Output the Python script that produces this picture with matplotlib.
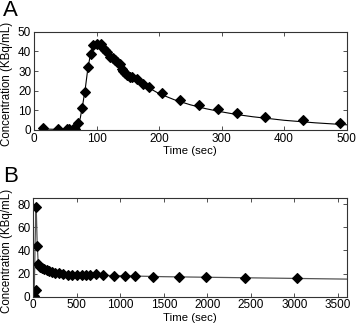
import matplotlib.pyplot as plt

plt.rcParams["font.family"] = ["Liberation Sans", "DejaVu Sans"]
plt.rcParams["font.size"] = 8

# panel A: measured points
time_a = [14, 39, 52, 56, 62, 66, 71, 76, 81, 86, 91, 95, 100, 107, 111, 114, 117,
          122, 126, 130, 133, 138, 140, 143, 146, 149, 153, 156, 164, 174, 184,
          204, 234, 264, 295, 325, 369, 430, 489]
conc_a = [0.8, 0.3, 0.3, 0.3, 0.3, 0.3, 3.7, 11.4, 19.5, 31.9, 38.5, 43.2, 43.6,
          43.7, 41.9, 40.7, 39.5, 37.0, 36.4, 35.6, 34.4, 33.6, 30.8, 30.0, 28.8,
          28.0, 27.1, 26.8, 25.9, 23.2, 22.0, 18.6, 15.3, 12.5, 10.7, 8.5, 6.8,
          5.1, 3.4]
# panel A: fitted curve
fit_time_a = [14, 40, 60, 66, 70, 74, 78, 82, 86, 90, 95, 100, 105, 110, 120, 130,
              140, 150, 160, 175, 200, 225, 250, 275, 300, 325, 350, 400, 450, 500]
fit_conc_a = [0.5, 0.2, 0.2, 0.4, 2.0, 6.0, 13.0, 21.0, 31.0, 38.0, 42.8, 43.8,
              43.6, 42.2, 38.5, 35.0, 31.5, 28.3, 26.0, 23.0, 18.5, 15.3, 12.8,
              10.8, 9.2, 7.8, 6.7, 4.9, 3.6, 2.6]

# panel B: measured points
time_b = [5, 30, 36, 46, 56, 77, 97, 123, 154, 184, 212, 250, 300, 345, 396, 442,
          499, 557, 606, 652, 721, 806, 932, 1055, 1170, 1380, 1680, 1980, 2430,
          3030]
conc_b = [0.5, 6.0, 77.5, 44.0, 28.5, 26.0, 24.6, 23.7, 23.1, 22.5, 21.7, 20.8,
          20.2, 19.7, 19.1, 19.1, 18.8, 18.8, 18.8, 18.8, 19.3, 18.8, 17.9, 17.9,
          18.2, 17.3, 16.8, 16.8, 16.2, 15.9]
# panel B: fitted curve
fit_time_b = [0, 12, 22, 30, 36, 45, 55, 65, 80, 100, 150, 200, 300, 400, 600, 800,
              1000, 1500, 2000, 2500, 3000, 3600]
fit_conc_b = [0, 10, 50, 77, 70, 45, 31, 27.5, 25.5, 24, 22.5, 21.5, 20.3, 19.6,
              19.0, 18.5, 18.1, 17.3, 16.8, 16.3, 15.8, 15.2]

fig = plt.figure(figsize=(3.58, 3.28), dpi=100)
ax_a = fig.add_axes([0.095, 0.604, 0.873, 0.299])
ax_b = fig.add_axes([0.093, 0.0955, 0.875, 0.2995])


def style(ax):
    for s in ax.spines.values():
        s.set_color("#333333")
        s.set_linewidth(0.8)
    ax.tick_params(direction="in", length=3, width=0.6, top=True, right=True,
                   labelsize=8.5, pad=2, color="#333333")
    ax.set_xlabel("Time (sec)", fontsize=8.2, labelpad=1)
    ax.set_ylabel("Concentration (KBq/mL)", fontsize=8.3, labelpad=0)
    ax.yaxis.set_label_coords(-0.066, 0.47)


mk = dict(marker="D", color="black", ms=4.6, mew=0.8, ls="none",
          markeredgecolor="black")

ax_a.plot(fit_time_a, fit_conc_a, color="black", lw=0.8)
ax_a.plot(time_a, conc_a, **mk)
ax_a.set_xlim(0, 500)
ax_a.set_ylim(0, 50)
ax_a.set_xticks([0, 100, 200, 300, 400, 500])
ax_a.set_yticks([0, 10, 20, 30, 40, 50])
style(ax_a)

ax_b.plot(fit_time_b, fit_conc_b, color="#555555", lw=0.9)
ax_b.plot(time_b, conc_b, **mk)
ax_b.set_xlim(0, 3600)
ax_b.set_ylim(0, 85)
ax_b.set_xticks([0, 500, 1000, 1500, 2000, 2500, 3000, 3500])
ax_b.set_yticks([0, 20, 40, 60, 80])
style(ax_b)

fig.text(0.008, 1.0, "A", fontsize=16, va="top", ha="left")
fig.text(0.008, 0.495, "B", fontsize=16, va="top", ha="left")

fig.savefig("out.png", dpi=100)
